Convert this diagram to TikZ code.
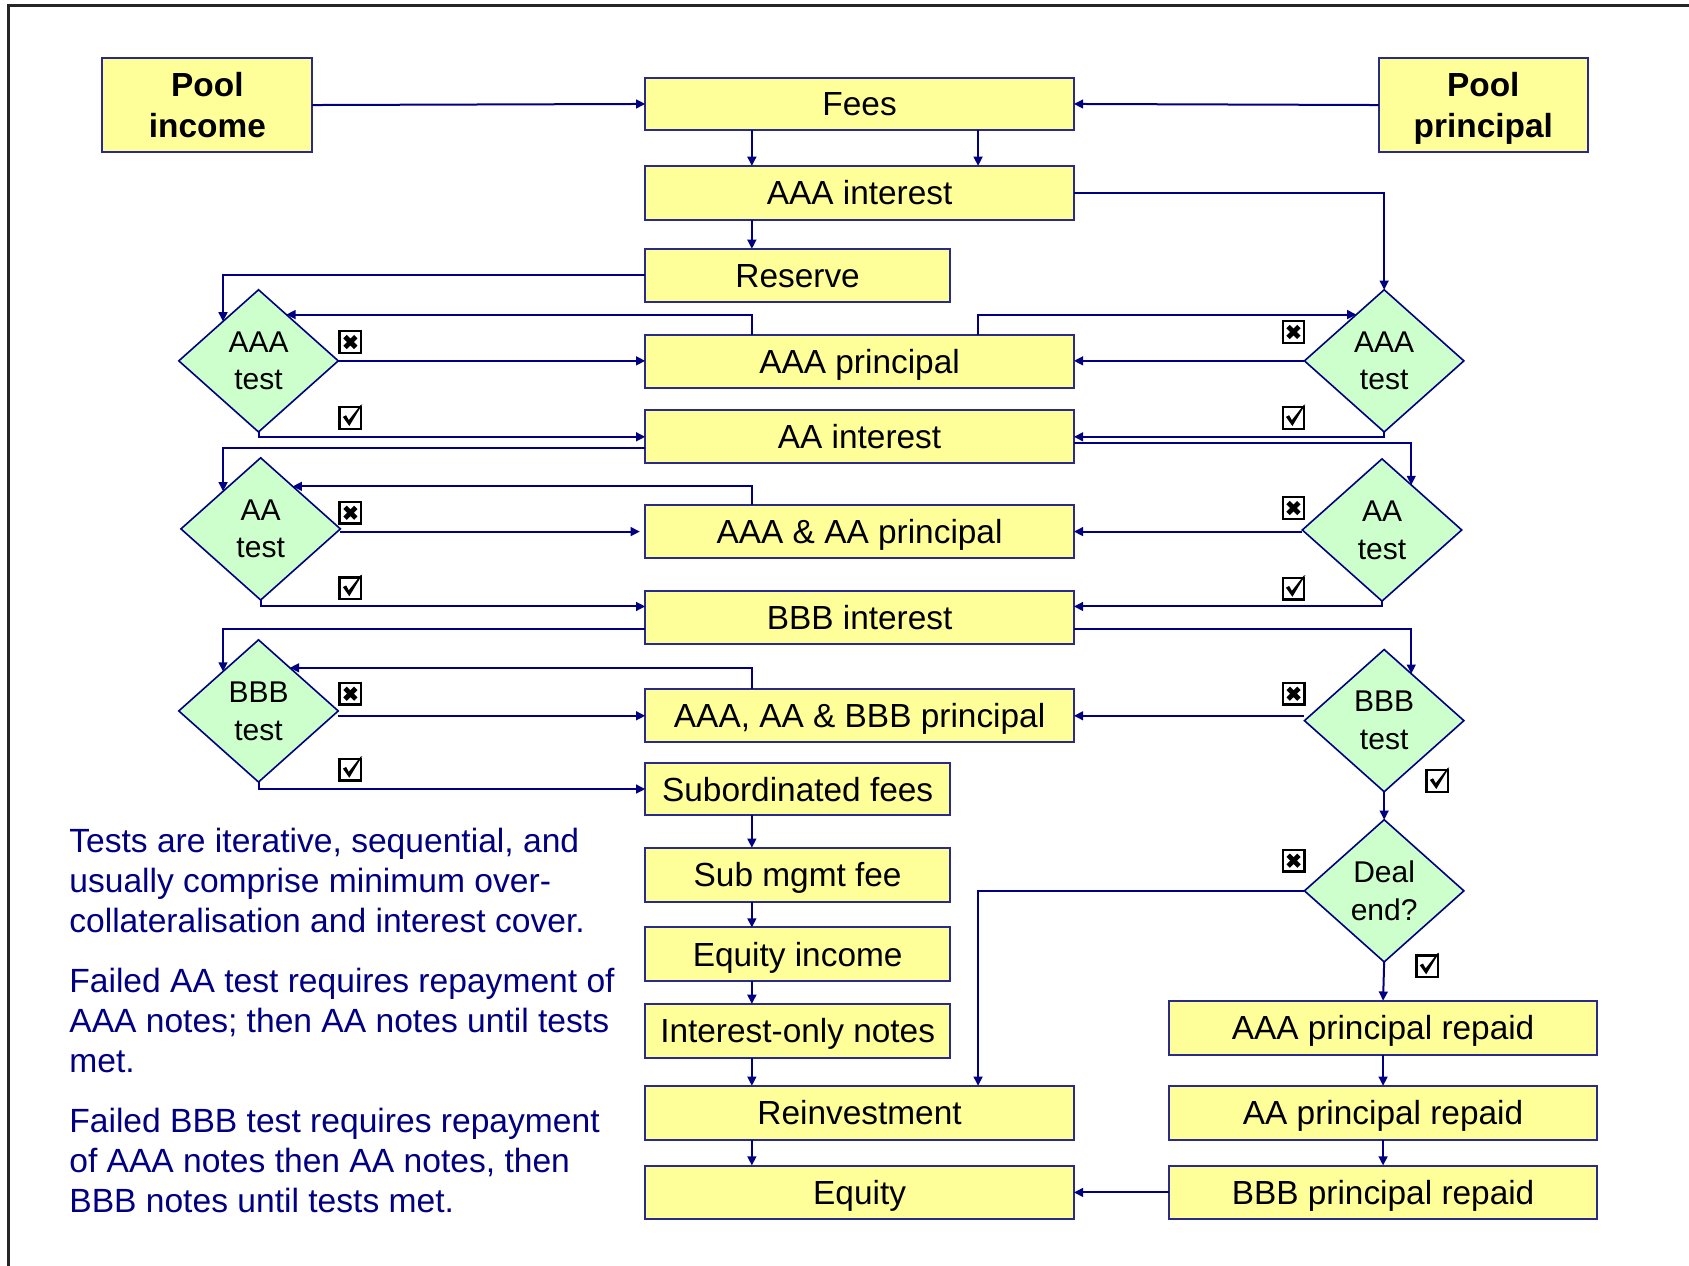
\documentclass[tikz,border=0pt]{standalone}
\usepackage{fontspec}
\setmainfont{Liberation Sans}
\usetikzlibrary{shapes.geometric,arrows.meta,calc}
\definecolor{navy}{HTML}{000080}
\definecolor{boxline}{HTML}{2A2A8A}
\definecolor{boxfill}{HTML}{FFFF99}
\definecolor{dfill}{HTML}{CCFFCC}
\definecolor{noteblue}{HTML}{000080}
\def\un{0.5386pt}
% [style]{x1}{y1}{x2}{y2}{name}{text}
\newcommand\rbox[7][box]{\node[#1,minimum width={(#4-#2)*\un},minimum height={(#5-#3)*\un}] (#6) at ({(#2+#4)/2},{(#3+#5)/2}) {#7};}
\begin{document}
\begin{tikzpicture}[x=0.5386pt, y=-0.5386pt,
  boxbase/.style={draw=boxline, fill=boxfill, line width=1pt, inner sep=0pt, outer sep=0pt},
  box/.style={boxbase, text height=15pt, text depth=3pt, font=\fontsize{16.7}{20}\selectfont},
  pool/.style={boxbase, align=center, text depth=0pt, font=\fontsize{16.7}{20.5}\selectfont\bfseries},
  dia/.style={diamond, draw=navy, fill=dfill, line width=0.8pt, inner sep=0pt, outer sep=0pt,
    minimum width=148*\un, minimum height=132*\un, align=center, font=\fontsize{15}{18.9}\selectfont},
  arr/.style={draw=navy, line width=1pt, -{Triangle[length=4.6pt,width=4.4pt]}},
  note/.style={anchor=north west, inner sep=0pt, align=left, text=noteblue, font=\fontsize{16.8}{20}\selectfont},
  cbx/.pic={\draw[line width=1.2pt] (-10,-10) rectangle (10,10);
            \draw[line width=2.4pt] (-5,-5) -- (5,5) (-5,5) -- (5,-5);},
  cbv/.pic={\draw[line width=1.2pt] (-10,-10) rectangle (10,10);
            \fill (-7,-1) -- (-4,-2.5) -- (-1.5,2) -- (9.5,-12) -- (11,-12.5) -- (-1,7.5) -- cycle;}
]
\useasboundingbox (0,0) rectangle (1568,1175);
\clip (0,0) rectangle (1568,1175);
\draw[line width=1.5pt, black!85] (8.3,1300) -- (8.3,4.8) -- (1700,4.8);

% boxes
\rbox[pool]{95}{54}{290}{141}{pinc}{Pool\\income}
\rbox[pool]{1280}{54}{1474}{141}{pprin}{Pool\\principal}
\rbox{599}{72}{997}{121}{fees}{Fees}
\rbox{599}{154}{997}{204}{aaai}{AAA interest}
\rbox{599}{231}{882}{280}{res}{Reserve}
\rbox{599}{311}{997}{360}{aaap}{AAA principal}
\rbox{599}{381}{997}{430}{aai}{AA interest}
\rbox{599}{469}{997}{518}{aap}{AAA \& AA principal}
\rbox{599}{549}{997}{598}{bbbi}{BBB interest}
\rbox{599}{640}{997}{689}{bbbp}{AAA, AA \& BBB principal}
\rbox{599}{708}{882}{757}{subf}{Subordinated fees}
\rbox{599}{787}{882}{837}{subm}{Sub mgmt fee}
\rbox{599}{861}{882}{911}{eqi}{Equity income}
\rbox{599}{932}{882}{982}{ion}{Interest-only notes}
\rbox{599}{1008}{997}{1058}{reinv}{Reinvestment}
\rbox{599}{1082}{997}{1132}{eq}{Equity}
\rbox{1085}{929}{1483}{979}{r1}{AAA principal repaid}
\rbox{1085}{1008}{1483}{1058}{r2}{AA principal repaid}
\rbox{1085}{1082}{1483}{1132}{r3}{BBB principal repaid}

% diamonds
\node[dia] (dl1) at (240,335) {AAA\\test};
\node[dia] (dl2) at (242,491) {AA\\test};
\node[dia] (dl3) at (240,660) {BBB\\test};
\node[dia] (dr1) at (1285,335) {AAA\\test};
\node[dia] (dr2) at (1283,492) {AA\\test};
\node[dia] (dr3) at (1285,669) {BBB\\test};
\node[dia] (dend) at (1285,827) {Deal\\end?};

% helper coordinates
\coordinate (xa) at (698,0);
\coordinate (xb) at (908,0);
\coordinate (yA) at (0,416);
\coordinate (yB) at (0,411);
\coordinate (yC) at (0,563);
\coordinate (yD) at (0,584);

% connectors
\draw[arr] (pinc.east) -- (fees.west);
\draw[arr] (pprin.west) -- (fees.east);
\draw[arr] (fees.south -| xa) -- (aaai.north -| xa);
\draw[arr] (fees.south -| xb) -- (aaai.north -| xb);
\draw[arr] (aaai.east) -| (dr1.north);
\draw[arr] (aaai.south -| xa) -- (res.north -| xa);
\draw[arr] (res.west) -| (dl1.132);
\draw[arr] (aaap.north -| xa) |- (dl1.59);
\draw[arr] (aaap.north -| xb) |- (dr1.121);
\draw[arr] (dl1.east) -- (dl1.east -| aaap.west);
\draw[arr] (dr1.west) -- (dr1.west -| aaap.east);
\draw[arr] (dl1.south) |- (aai.west);
\draw[arr] (dr1.south) |- (aai.east);
\draw[arr] (aai.west |- yA) -| (dl2.135);
\draw[arr] (aai.east |- yB) -| (dr2.57);
\draw[arr] (aap.north -| xa) |- (dl2.53);
\draw[arr, shorten >=5*\un] (dl2.east |- aap.west) -- (aap.west);
\draw[arr] (dr2.west |- aap.east) -- (aap.east);
\draw[arr] (dl2.south) |- (bbbi.west |- yC);
\draw[arr] (dr2.south) |- (bbbi.east |- yC);
\draw[arr] (bbbi.west |- yD) -| (dl3.132);
\draw[arr] (bbbi.east |- yD) -| (dr3.60);
\draw[arr] (bbbp.north -| xa) |- (dl3.54);
\draw[arr] (dl3.east |- bbbp.west) -- (bbbp.west);
\draw[arr] (dr3.west |- bbbp.east) -- (bbbp.east);
\draw[arr] (dl3.south) |- (subf.west);
\draw[arr] (dr3.south) -- (dend.north);
\draw[arr] (dend.west) -| (reinv.north -| xb);
\draw[arr] (dend.south) -- (r1.north);
\draw[arr] (subf.south -| xa) -- (subm.north -| xa);
\draw[arr] (subm.south -| xa) -- (eqi.north -| xa);
\draw[arr] (eqi.south -| xa) -- (ion.north -| xa);
\draw[arr] (ion.south -| xa) -- (reinv.north -| xa);
\draw[arr] (reinv.south -| xa) -- (eq.north -| xa);
\draw[arr] (r1.south) -- (r2.north);
\draw[arr] (r2.south) -- (r3.north);
\draw[arr] (r3.west) -- (eq.east);

% check boxes
\pic at (325.3,317.5) {cbx};
\pic at (325.3,388) {cbv};
\pic at (325.3,476) {cbx};
\pic at (325.3,546) {cbv};
\pic at (325.3,644) {cbx};
\pic at (325.3,714.5) {cbv};
\pic at (1200.8,308.2) {cbx};
\pic at (1200.8,388) {cbv};
\pic at (1200.8,471.6) {cbx};
\pic at (1200.8,546.5) {cbv};
\pic at (1200.9,644) {cbx};
\pic at (1334.4,725) {cbv};
\pic at (1200.9,799) {cbx};
\pic at (1325,897) {cbv};

% notes
\node[note] (n1) at (64,768.5) {Tests are iterative, sequential, and\\usually comprise minimum over-\\collateralisation and interest cover.};
\node[note] (n2) at (64,898) {Failed AA test requires repayment of\\AAA notes; then AA notes until tests\\met.};
\node[note] (n3) at (64,1028.5) {Failed BBB test requires repayment\\of AAA notes then AA notes, then\\BBB notes until tests met.};
\end{tikzpicture}
\end{document}
